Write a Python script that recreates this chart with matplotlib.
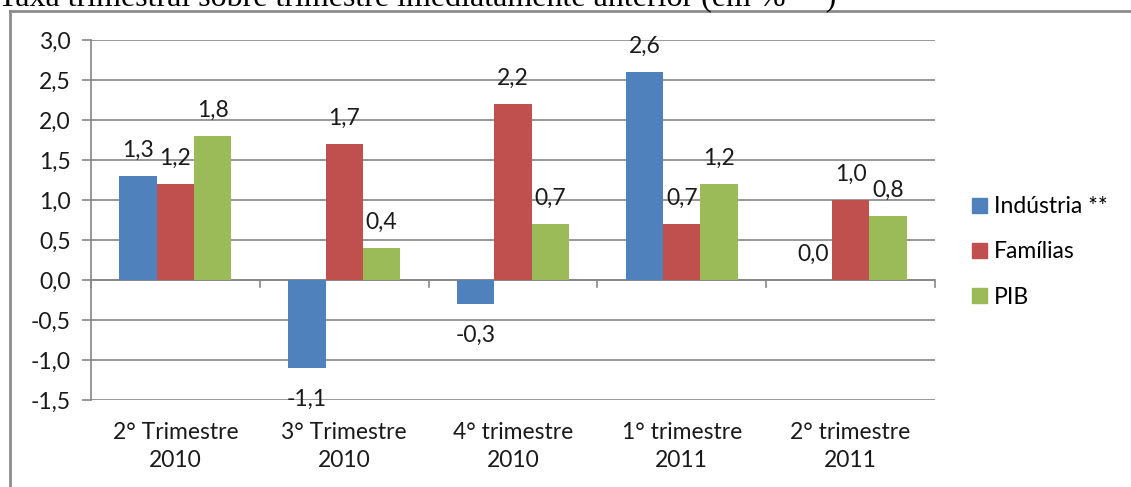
import numpy as np
import matplotlib
matplotlib.use("Agg")
import matplotlib.pyplot as plt
from matplotlib.patches import Rectangle
from matplotlib.lines import Line2D

# Quarterly rates (% over the immediately preceding quarter)
trimestres = ["2° Trimestre\n2010", "3° Trimestre\n2010", "4° trimestre\n2010",
              "1° trimestre\n2011", "2° trimestre\n2011"]
industria = [1.3, -1.1, -0.3, 2.6, 0.0]
familias = [1.2, 1.7, 2.2, 0.7, 1.0]
pib = [1.8, 0.4, 0.7, 1.2, 0.8]

series = ["Indústria **", "Famílias", "PIB"]
cores = ["#4F81BD", "#C0504D", "#9BBB59"]
yticks = np.arange(-1.5, 3.01, 0.5)

plt.rcParams["font.family"] = ["Lato", "DejaVu Sans"]

W, H = 1131, 487
fig = plt.figure(figsize=(W / 100, H / 100), dpi=100)
grid_cor = "#868686"
txt_cor = "#1a1a1a"
fs = 16.5

# outer frame (only left and top edges fall inside the image)
fig.add_artist(Line2D([10 / W, 10 / W], [0, 1 - 11 / H], transform=fig.transFigure,
                      color="#8c8c8c", lw=2))
fig.add_artist(Line2D([10 / W, 1], [1 - 11 / H, 1 - 11 / H], transform=fig.transFigure,
                      color="#8c8c8c", lw=2))

fig.text(-2 / W, 1 - 6 / H, "Taxa trimestral sobre trimestre imediatamente anterior (em % **)",
         family="Liberation Serif", fontsize=23, va="baseline", ha="left", color="black")

ax = fig.add_axes([91 / W, (H - 400) / H, (935 - 91) / W, 360 / H])
x = np.arange(len(trimestres))
w = 0.221
for i, (vals, cor) in enumerate(zip([industria, familias, pib], cores)):
    pos = x + (i - 1) * w
    ax.bar(pos, vals, width=w, color=cor, zorder=3, label=series[i])
    for p, v in zip(pos, vals):
        txt = f"{v:.1f}".replace(".", ",")
        if v >= 0:
            ax.annotate(txt, (p, v), xytext=(0, 14), textcoords="offset points",
                        ha="center", va="baseline", fontsize=fs, color=txt_cor)
        else:
            ax.annotate(txt, (p, v), xytext=(0, -15), textcoords="offset points",
                        ha="center", va="top", fontsize=fs, color=txt_cor)

ax.set_xlim(-0.5, len(trimestres) - 0.5)
ax.set_ylim(-1.5, 3.0)
ax.set_yticks(yticks)
ax.set_yticklabels([f"{t:.1f}".replace(".", ",") for t in yticks])
for t in yticks:
    ax.axhline(t, color=grid_cor, lw=1.2, zorder=1)

# category axis crossing at zero with tick marks between groups
ax.axhline(0, color=grid_cor, lw=1.2, zorder=2)
tick_len = 7 / 360 * 4.5
for b in np.arange(-0.5, len(trimestres), 1.0):
    ax.plot([b, b], [0, -tick_len], color=grid_cor, lw=1.2, zorder=2, clip_on=False)

ax.set_xticks(x)
ax.set_xticklabels(trimestres, fontsize=fs, color=txt_cor, linespacing=1.4)
ax.tick_params(axis="x", length=0, pad=16)
ax.tick_params(axis="y", length=6.5, color=grid_cor, width=1.2, labelsize=fs,
               labelcolor=txt_cor, pad=8)

for s in ["top", "right", "bottom"]:
    ax.spines[s].set_visible(False)
ax.spines["left"].set_color(grid_cor)
ax.spines["left"].set_linewidth(1.2)

handles = [Rectangle((0, 0), 1, 1, color=c) for c in cores]
fig.legend(handles, series, loc="center left", bbox_to_anchor=(972 / W, 1 - 252 / H),
           borderaxespad=0, frameon=False, fontsize=fs, handlelength=0.65,
           handleheight=0.65, handletextpad=0.3, labelspacing=1.05, borderpad=0)

fig.savefig("out.png", dpi=100, facecolor="white")
